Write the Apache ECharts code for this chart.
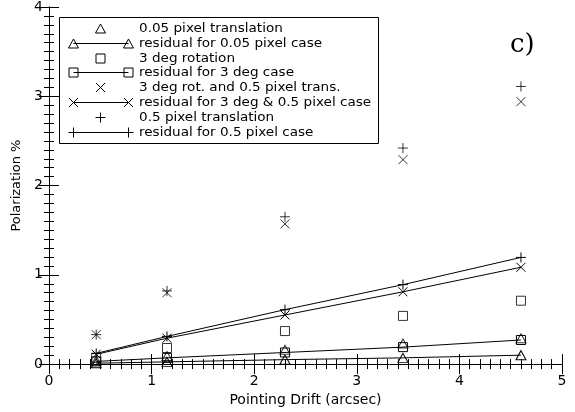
<!DOCTYPE html>
<html><head><meta charset="utf-8">
<script src="https://cdn.jsdelivr.net/npm/echarts@6/dist/echarts.min.js"></script>
<style>html,body{margin:0;padding:0;background:#fff}#c{width:575px;height:412px}</style>
</head><body><div id="c"></div>
<script>
const drift = [0.46, 1.15, 2.3, 3.45, 4.6];
const trans005 = [0.04, 0.09, 0.16, 0.23, 0.29];
const trans005Res = [0.01, 0.025, 0.05, 0.07, 0.10];
const rot3 = [0.07, 0.18, 0.37, 0.54, 0.71];
const rot3Res = [0.03, 0.07, 0.13, 0.19, 0.27];
const rotTrans = [0.33, 0.80, 1.57, 2.29, 2.94];
const rotTransRes = [0.11, 0.29, 0.55, 0.81, 1.085];
const trans05 = [0.33, 0.82, 1.65, 2.42, 3.11];
const trans05Res = [0.12, 0.31, 0.61, 0.89, 1.195];
const xTicks = [0, 1, 2, 3, 4, 5];
const yTicks = [0, 1, 2, 3, 4];
const legendLabels = [
  '0.05 pixel translation',
  'residual for 0.05 pixel case',
  '3 deg rotation',
  'residual for 3 deg case',
  '3 deg rot. and 0.5 pixel trans.',
  'residual for 3 deg & 0.5 pixel case',
  '0.5 pixel translation',
  'residual for 0.5 pixel case'
];

const SYM = {
  tri: {symbol: 'triangle', size: [10, 9]},
  sq: {symbol: 'rect', size: 9},
  x: {symbol: 'path://M0,0L10,10M0,10L10,0', size: 9},
  plus: {symbol: 'path://M5,0L5,10M0,5L10,5', size: 10}
};
const FONT = 'DejaVu Sans';
const itemStyle = {color: 'rgba(0,0,0,0)', borderColor: '#000', borderWidth: 1};
function pts(ys) { return drift.map((x, i) => [x, ys[i]]); }
function scatter(name, ys, s) {
  return {name, type: 'scatter', data: pts(ys), symbol: SYM[s].symbol, symbolSize: SYM[s].size,
    xAxisIndex: 0, yAxisIndex: 0, itemStyle, silent: true, z: 3};
}
function line(name, ys, s) {
  return {name, type: 'line', data: pts(ys), symbol: SYM[s].symbol, symbolSize: SYM[s].size,
    xAxisIndex: 0, yAxisIndex: 0, showSymbol: true, itemStyle, lineStyle: {color: '#000', width: 1}, silent: true, z: 3};
}
const series = [
  scatter(legendLabels[0], trans005, 'tri'),
  line(legendLabels[1], trans005Res, 'tri'),
  scatter(legendLabels[2], rot3, 'sq'),
  line(legendLabels[3], rot3Res, 'sq'),
  scatter(legendLabels[4], rotTrans, 'x'),
  line(legendLabels[5], rotTransRes, 'x'),
  scatter(legendLabels[6], trans05, 'plus'),
  line(legendLabels[7], trans05Res, 'plus')
];

// Legend drawn with graphic elements
const LX = 59, LY = 17, LW = 319, LH = 126, rowH = 14.8, row0 = 28;
const ZL = 20;
function symGraphic(kind, cx, cy) {
  const st = {stroke: '#000', lineWidth: 1, fill: 'none'};
  if (kind === 'tri') return [{type: 'polygon', z: ZL, shape: {points: [[cx, cy - 4.5], [cx + 5, cy + 4.5], [cx - 5, cy + 4.5]]}, style: st}];
  if (kind === 'sq') return [{type: 'rect', z: ZL, shape: {x: cx - 4.5, y: cy - 4.5, width: 9, height: 9}, style: st}];
  if (kind === 'x') return [
    {type: 'line', z: ZL, shape: {x1: cx - 4.5, y1: cy - 4.5, x2: cx + 4.5, y2: cy + 4.5}, style: st},
    {type: 'line', z: ZL, shape: {x1: cx - 4.5, y1: cy + 4.5, x2: cx + 4.5, y2: cy - 4.5}, style: st}];
  return [
    {type: 'line', z: ZL, shape: {x1: cx, y1: cy - 5, x2: cx, y2: cy + 5}, style: st},
    {type: 'line', z: ZL, shape: {x1: cx - 5, y1: cy, x2: cx + 5, y2: cy}, style: st}];
}
const kinds = ['tri', 'tri', 'sq', 'sq', 'x', 'x', 'plus', 'plus'];
const graphics = [{type: 'rect', shape: {x: LX + 0.5, y: LY + 0.5, width: LW, height: LH},
  style: {stroke: '#000', lineWidth: 1, fill: '#fff'}, z: 10}];
legendLabels.forEach((lab, i) => {
  const cy = Math.round(row0 + i * rowH) + 0.5;
  if (i % 2 === 0) {
    graphics.push(...symGraphic(kinds[i], 100.5, cy));
  } else {
    graphics.push({type: 'line', z: ZL, shape: {x1: 73.5, y1: cy, x2: 128.5, y2: cy}, style: {stroke: '#000', lineWidth: 1}});
    graphics.push(...symGraphic(kinds[i], 73.5, cy));
    graphics.push(...symGraphic(kinds[i], 128.5, cy));
  }
  graphics.push({type: 'text', z: ZL, x: 139, y: cy, scaleX: 1.13,
    style: {text: lab, font: '12px "' + FONT + '"', fill: '#000', verticalAlign: 'middle', align: 'left'}});
});
graphics.push({type: 'text', x: 510, y: 45, z: ZL, style: {text: 'c)', font: '26px "DejaVu Serif"', fill: '#000', verticalAlign: 'middle', align: 'left'}});

const axLine = {show: true, lineStyle: {color: '#000', width: 1}};
const tickStyle = {color: '#000', width: 1};
function mkAxis(min, max, interval, position, len, extra) {
  return Object.assign({type: 'value', min, max, interval, position, splitLine: {show: false},
    axisLine: len === 10 ? axLine : {show: false},
    axisTick: {show: true, inside: true, length: len, lineStyle: tickStyle},
    axisLabel: {show: false}}, extra || {});
}
const labelStyle = {color: '#000', fontFamily: FONT, fontSize: 14};

const chart = echarts.init(document.getElementById('c'), null, {renderer: 'canvas'});
chart.setOption({
  animation: false,
  backgroundColor: '#fff',
  grid: {left: 49, right: 13, top: 5, bottom: 45, containLabel: false},
  xAxis: [
    mkAxis(0, 5, 1, 'bottom', 10, {name: 'Pointing Drift (arcsec)', nameLocation: 'middle', nameGap: 26,
      nameTextStyle: {color: '#000', fontFamily: FONT, fontSize: 14},
      axisLabel: Object.assign({show: true, margin: 10, formatter: v => xTicks.includes(v) ? String(v) : ''}, labelStyle)}),
    mkAxis(0, 5, 1, 'top', 10),
    mkAxis(0, 5, 0.1, 'bottom', 5),
    mkAxis(0, 5, 0.1, 'top', 5)
  ],
  yAxis: [
    mkAxis(0, 4, 1, 'left', 10, {name: 'Polarization %', nameLocation: 'middle', nameGap: 24,
      nameTextStyle: {color: '#000', fontFamily: FONT, fontSize: 13},
      axisLabel: Object.assign({show: true, margin: 6, formatter: v => yTicks.includes(v) ? String(v) : ''}, labelStyle)}),
    mkAxis(0, 4, 1, 'right', 10),
    mkAxis(0, 4, 0.1, 'left', 5),
    mkAxis(0, 4, 0.1, 'right', 5)
  ],
  series,
  graphic: graphics
});
</script></body></html>
